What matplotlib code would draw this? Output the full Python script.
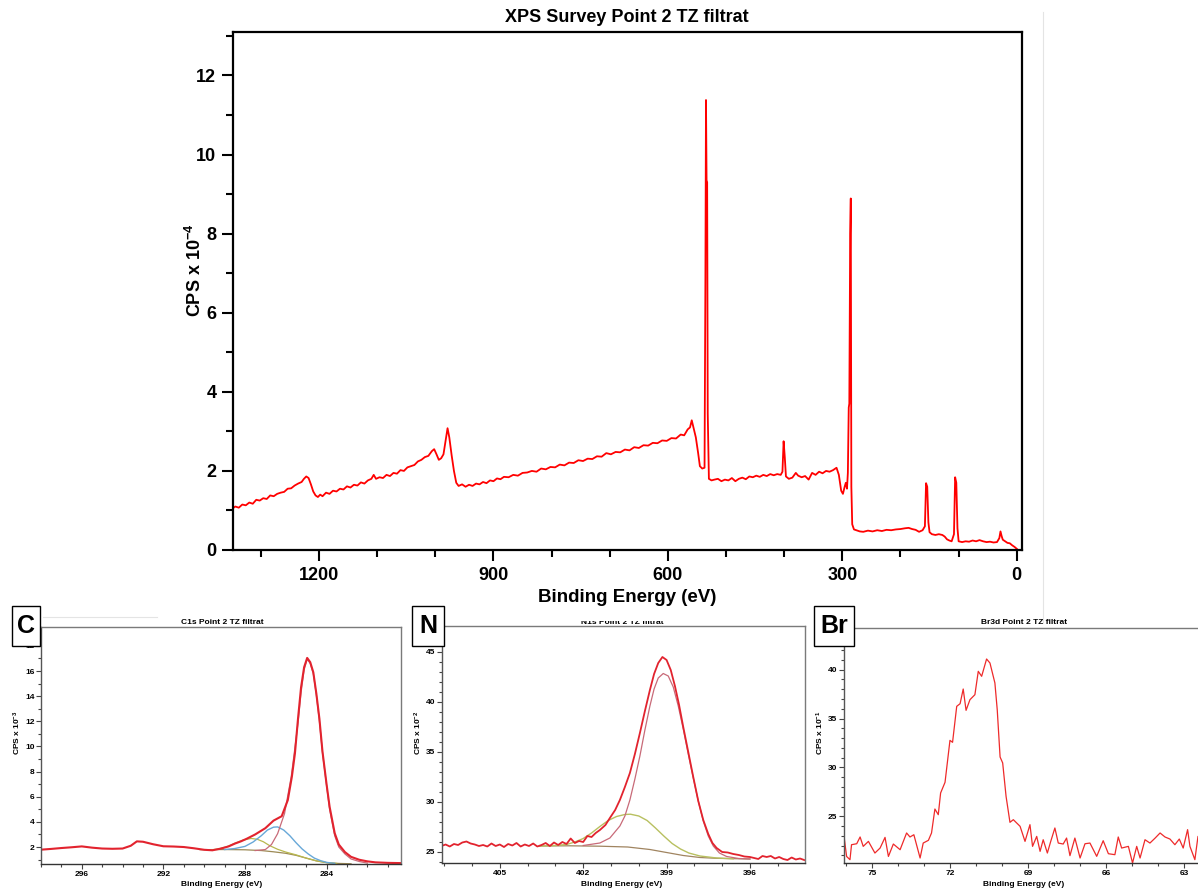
import numpy as np
import matplotlib.pyplot as plt
from matplotlib.ticker import MultipleLocator
from matplotlib.patches import Rectangle
from matplotlib.lines import Line2D

plt.rcParams['font.family'] = 'Liberation Sans'
plt.rcParams['font.weight'] = 'bold'
plt.rcParams['mathtext.fontset'] = 'custom'
plt.rcParams['mathtext.rm'] = 'Liberation Sans:bold'
plt.rcParams['mathtext.default'] = 'rm'

# survey spectrum: (binding energy eV, CPS x 1e-4)
survey_pts = [
    (1350, 1.04), (1344, 1.10), (1338, 1.07), (1332, 1.15), (1326, 1.13), (1320, 1.20),
    (1314, 1.17), (1308, 1.27), (1302, 1.25), (1296, 1.31), (1290, 1.29), (1284, 1.38),
    (1278, 1.36), (1272, 1.42), (1266, 1.45), (1260, 1.47), (1254, 1.55), (1248, 1.56),
    (1242, 1.63), (1236, 1.68), (1230, 1.72), (1226, 1.80), (1222, 1.86), (1218, 1.82),
    (1214, 1.66), (1210, 1.48), (1206, 1.38), (1202, 1.34), (1198, 1.40), (1194, 1.36),
    (1188, 1.45), (1182, 1.42), (1176, 1.50), (1170, 1.48), (1164, 1.55), (1158, 1.53),
    (1152, 1.61), (1146, 1.58), (1140, 1.65), (1134, 1.63), (1128, 1.71), (1122, 1.68),
    (1116, 1.76), (1110, 1.80), (1106, 1.90), (1102, 1.80), (1096, 1.84), (1090, 1.82),
    (1084, 1.90), (1078, 1.87), (1072, 1.95), (1066, 1.93), (1060, 2.02), (1054, 2.00),
    (1048, 2.09), (1042, 2.12), (1036, 2.15), (1030, 2.24), (1024, 2.28), (1018, 2.35),
    (1012, 2.38), (1006, 2.50), (1002, 2.55), (998, 2.42), (994, 2.28), (990, 2.32),
    (986, 2.42), (982, 2.80), (979, 3.08), (976, 2.85), (972, 2.40), (968, 2.00),
    (964, 1.70), (960, 1.62), (954, 1.66), (948, 1.60), (942, 1.65), (936, 1.62),
    (930, 1.68), (924, 1.66), (918, 1.72), (912, 1.69), (906, 1.76), (900, 1.74),
    (894, 1.81), (888, 1.79), (882, 1.85), (874, 1.84), (866, 1.90), (858, 1.88),
    (850, 1.95), (842, 1.96), (834, 2.00), (826, 1.98), (818, 2.06), (810, 2.04),
    (802, 2.10), (794, 2.09), (786, 2.16), (778, 2.14), (770, 2.21), (762, 2.20),
    (754, 2.27), (746, 2.25), (738, 2.31), (730, 2.30), (722, 2.37), (714, 2.36),
    (706, 2.45), (698, 2.42), (690, 2.48), (682, 2.47), (674, 2.54), (666, 2.52),
    (658, 2.60), (650, 2.58), (642, 2.65), (634, 2.64), (626, 2.71), (618, 2.70),
    (610, 2.77), (602, 2.76), (594, 2.83), (586, 2.82), (578, 2.92), (572, 2.90),
    (566, 3.05), (562, 3.10), (559, 3.28), (556, 3.10), (552, 2.85), (548, 2.45),
    (545, 2.12), (541, 2.06), (537, 2.08), (535.5, 6.9), (534.5, 11.38), (533.5, 9.35),
    (532.5, 9.30), (531.5, 3.45), (529.5, 1.80), (525, 1.76), (520, 1.78), (514, 1.80),
    (508, 1.74), (502, 1.78), (496, 1.76), (490, 1.82), (484, 1.74), (478, 1.80),
    (472, 1.83), (466, 1.79), (460, 1.86), (454, 1.84), (448, 1.88), (442, 1.85),
    (436, 1.90), (430, 1.87), (424, 1.92), (418, 1.89), (412, 1.92), (406, 1.90),
    (403, 1.98), (401, 2.75), (399, 2.35), (397, 1.86), (392, 1.80), (386, 1.83),
    (380, 1.95), (376, 1.88), (370, 1.84), (364, 1.87), (358, 1.78), (352, 1.95),
    (346, 1.90), (340, 1.98), (334, 1.94), (328, 2.00), (322, 1.98), (316, 2.02),
    (310, 2.08), (306, 1.90), (302, 1.50), (299, 1.42), (296, 1.60), (294, 1.70),
    (292, 1.55), (290.5, 1.95), (289, 3.60), (288, 3.70), (286.5, 8.00), (285.5, 8.89),
    (284.5, 1.60), (283, 0.65), (280, 0.52), (276, 0.50), (270, 0.47), (264, 0.46),
    (256, 0.49), (248, 0.47), (240, 0.50), (232, 0.48), (224, 0.51), (216, 0.50),
    (208, 0.52), (200, 0.53), (192, 0.55), (186, 0.56), (180, 0.53), (174, 0.51),
    (168, 0.46), (162, 0.50), (158, 0.60), (156, 1.69), (154, 1.60), (152, 0.70),
    (150, 0.45), (146, 0.40), (140, 0.38), (134, 0.40), (128, 0.38), (124, 0.34),
    (120, 0.27), (116, 0.24), (112, 0.22), (108, 0.40), (106, 1.84), (104, 1.70),
    (102, 0.55), (100, 0.22), (94, 0.20), (88, 0.22), (82, 0.21), (76, 0.24),
    (70, 0.22), (64, 0.25), (58, 0.22), (52, 0.20), (46, 0.21), (40, 0.19),
    (34, 0.20), (30, 0.30), (28, 0.47), (26, 0.35), (24, 0.26), (20, 0.22),
    (16, 0.18), (12, 0.17), (8, 0.12), (4, 0.08), (0, 0.03),
]

# C1s high resolution (CPS x 1e-3)
c1s_raw = [
    (298.0, 1.79), (297.5, 1.85), (297.0, 1.92), (296.5, 1.98), (296.0, 2.05), (295.5, 1.95),
    (295.0, 1.88), (294.5, 1.86), (294.0, 1.88), (293.6, 2.10), (293.3, 2.45), (293.0, 2.42),
    (292.5, 2.22), (292.0, 2.06), (291.5, 2.04), (291.0, 2.00), (290.5, 1.90), (290.0, 1.78),
    (289.6, 1.74), (289.2, 1.87), (288.8, 2.05), (288.5, 2.27), (288.2, 2.45), (287.9, 2.67),
    (287.5, 3.00), (287.0, 3.50), (286.6, 4.10), (286.2, 4.45), (285.9, 5.73), (285.7, 7.6),
    (285.55, 9.45), (285.4, 12.2), (285.25, 14.7), (285.1, 16.3), (284.95, 17.04), (284.8, 16.7),
    (284.65, 15.9), (284.5, 14.2), (284.35, 12.2), (284.2, 9.6), (284.0, 7.0), (283.85, 5.2),
    (283.6, 3.1), (283.4, 2.2), (283.1, 1.6), (282.8, 1.22), (282.4, 0.99), (282.0, 0.86),
    (281.6, 0.78), (281.0, 0.74), (280.3, 0.72),
]
c1s_cc = [
    (287.5, 1.72), (287.0, 1.80), (286.7, 2.2), (286.4, 3.06), (286.06, 4.66), (285.73, 7.6),
    (285.55, 9.9), (285.4, 11.85), (285.25, 14.3), (285.1, 16.1), (284.95, 16.95), (284.8, 16.6),
    (284.65, 15.8), (284.5, 14.1), (284.35, 12.0), (284.2, 9.5), (284.0, 6.9), (283.85, 5.0),
    (283.6, 2.9), (283.4, 2.0), (283.1, 1.45), (282.8, 1.05), (282.4, 0.85), (282.0, 0.72),
]
c1s_co = [
    (289.0, 1.80), (288.5, 1.88), (288.0, 2.05), (287.6, 2.40), (287.2, 2.90), (286.9, 3.35),
    (286.6, 3.58), (286.4, 3.60), (286.1, 3.35), (285.8, 2.90), (285.5, 2.35), (285.2, 1.85),
    (284.9, 1.45), (284.6, 1.12), (284.3, 0.92), (284.0, 0.78), (283.6, 0.70),
]
c1s_coo = [
    (289.8, 1.74), (289.3, 1.85), (288.9, 2.02), (288.5, 2.30), (288.1, 2.55), (287.7, 2.68),
    (287.4, 2.62), (287.1, 2.42), (286.8, 2.12), (286.4, 1.82), (286.0, 1.60), (285.5, 1.38),
    (285.0, 1.12), (284.5, 0.90), (284.0, 0.76), (283.5, 0.70),
]
c1s_bg = [
    (290.2, 1.79), (289.0, 1.80), (288.0, 1.78), (287.2, 1.72), (286.6, 1.62), (286.0, 1.50),
    (285.5, 1.34), (285.0, 1.12), (284.5, 0.90), (284.0, 0.76), (283.5, 0.70), (282.8, 0.67),
]

# N1s high resolution (CPS x 1e-2)
n1s_raw = [
    (407.1, 25.6), (406.95, 25.75), (406.8, 25.55), (406.65, 25.8), (406.5, 25.7), (406.35, 25.95),
    (406.2, 26.05), (406.05, 25.85), (405.9, 25.75), (405.75, 25.6), (405.6, 25.7), (405.45, 25.55),
    (405.3, 25.85), (405.15, 25.6), (405.0, 25.75), (404.85, 25.5), (404.7, 25.8), (404.55, 25.65),
    (404.4, 25.9), (404.25, 25.55), (404.1, 25.75), (403.95, 25.6), (403.8, 25.85), (403.65, 25.55),
    (403.5, 25.7), (403.35, 25.9), (403.2, 25.6), (403.05, 25.95), (402.9, 25.7), (402.75, 26.0),
    (402.6, 25.8), (402.45, 26.35), (402.3, 25.9), (402.15, 26.1), (402.0, 26.0), (401.85, 26.6),
    (401.7, 26.5), (401.55, 26.9), (401.4, 27.2), (401.2, 27.7), (401.04, 28.4), (400.85, 29.2),
    (400.68, 30.2), (400.5, 31.5), (400.32, 32.9), (400.14, 34.8), (399.96, 36.9), (399.78, 39.1),
    (399.6, 41.2), (399.45, 42.8), (399.3, 43.9), (399.15, 44.5), (399.0, 44.2), (398.85, 43.2),
    (398.7, 41.6), (398.55, 39.7), (398.4, 37.5), (398.22, 35.0), (398.04, 32.5), (397.86, 30.1),
    (397.68, 28.2), (397.5, 26.8), (397.35, 25.9), (397.2, 25.4), (397.0, 25.0), (396.8, 24.95),
    (396.6, 24.8), (396.4, 24.7), (396.2, 24.55), (396.0, 24.5), (395.85, 24.4), (395.7, 24.3),
    (395.55, 24.6), (395.4, 24.5), (395.25, 24.6), (395.1, 24.35), (394.95, 24.5), (394.8, 24.3),
    (394.65, 24.2), (394.5, 24.45), (394.35, 24.25), (394.2, 24.35), (394.05, 24.2),
]
n1s_main = [
    (402.0, 25.65), (401.4, 25.9), (401.04, 26.4), (400.68, 27.6), (400.5, 28.6), (400.32, 30.2),
    (400.14, 32.3), (399.96, 34.6), (399.78, 37.2), (399.6, 39.6), (399.45, 41.3), (399.3, 42.4),
    (399.12, 42.85), (398.94, 42.6), (398.76, 41.5), (398.58, 39.6), (398.4, 37.3), (398.22, 34.8),
    (398.04, 32.4), (397.86, 30.1), (397.68, 28.1), (397.5, 26.6), (397.32, 25.6), (397.1, 24.9),
    (396.84, 24.55), (396.4, 24.35), (396.0, 24.3),
]
n1s_second = [
    (403.56, 25.6), (403.0, 25.65), (402.6, 25.75), (402.3, 26.0), (402.0, 26.35), (401.7, 26.9),
    (401.4, 27.55), (401.1, 28.15), (400.8, 28.55), (400.5, 28.75), (400.3, 28.78), (400.0, 28.6),
    (399.7, 28.15), (399.4, 27.4), (399.1, 26.6), (398.8, 25.85), (398.5, 25.3), (398.2, 24.9),
    (397.8, 24.6), (397.2, 24.4), (396.6, 24.32),
]
n1s_bg = [
    (403.56, 25.6), (402.5, 25.62), (401.4, 25.58), (400.4, 25.5), (399.6, 25.25), (399.0, 24.95),
    (398.4, 24.65), (397.8, 24.45), (397.2, 24.37), (396.0, 24.3),
]

# Br3d high resolution (CPS x 1e-1)
br3d_raw = [
    (76.08, 22.78), (75.99, 20.9), (75.86, 20.57), (75.8, 22.1), (75.6, 22.2), (75.47, 22.89),
    (75.35, 21.93), (75.15, 22.44), (74.9, 21.25), (74.7, 21.76), (74.51, 22.85), (74.38, 20.9),
    (74.19, 22.17), (73.93, 21.59), (73.68, 23.3), (73.55, 22.89), (73.4, 23.12), (73.16, 20.74),
    (73.04, 22.27), (72.84, 22.55), (72.72, 23.3), (72.59, 25.75), (72.46, 25.17), (72.37, 27.39),
    (72.2, 28.48), (72.01, 32.77), (71.91, 32.57), (71.75, 36.25), (71.62, 36.52), (71.5, 38.02),
    (71.39, 35.84), (71.24, 36.93), (71.05, 37.44), (70.92, 39.83), (70.79, 39.32), (70.6, 41.09),
    (70.47, 40.68), (70.28, 38.64), (70.19, 35.91), (70.08, 31.07), (69.98, 30.46), (69.85, 27.05),
    (69.7, 24.39), (69.57, 24.66), (69.31, 23.98), (69.12, 22.44), (68.93, 24.15), (68.83, 21.93),
    (68.67, 22.95), (68.54, 21.42), (68.42, 22.61), (68.26, 21.25), (68.13, 22.44), (67.97, 23.81),
    (67.84, 22.27), (67.65, 22.17), (67.52, 22.78), (67.39, 20.98), (67.2, 22.78), (67.0, 20.74),
    (66.81, 22.2), (66.62, 22.27), (66.36, 20.91), (66.11, 22.51), (65.91, 21.18), (65.66, 21.08),
    (65.53, 22.89), (65.4, 21.76), (65.14, 21.93), (64.98, 20.23), (64.82, 21.93), (64.69, 20.74),
    (64.5, 22.61), (64.31, 22.27), (64.11, 22.78), (63.92, 23.3), (63.73, 22.89), (63.54, 22.68),
    (63.35, 22.1), (63.18, 22.68), (63.03, 21.76), (62.86, 23.64), (62.77, 21.93), (62.58, 20.57),
    (62.46, 22.95), (62.3, 22.4),
]

W, H = 1198, 890
fig = plt.figure(figsize=(W / 100, H / 100), dpi=100)


def box(l, t, r, b):
    return [l / W, 1 - b / H, (r - l) / W, (b - t) / H]


def xy(pts):
    a = np.array(pts)
    return a[:, 0], a[:, 1]


# ---- survey ----
ax = fig.add_axes(box(233, 32, 1022, 550))
ax.plot(*xy(survey_pts), color='#ff0000', lw=1.3)
ax.set_xlim(1348, -9)
ax.set_ylim(0, 13.1)
ax.xaxis.set_major_locator(MultipleLocator(300))
ax.xaxis.set_minor_locator(MultipleLocator(100))
ax.yaxis.set_major_locator(MultipleLocator(2))
ax.yaxis.set_minor_locator(MultipleLocator(1))
ax.tick_params(which='both', direction='out', width=1.5, labelsize=13, pad=4)
ax.tick_params(which='major', length=8)
ax.tick_params(which='minor', length=5)
for s in ax.spines.values():
    s.set_linewidth(1.6)
fig.text(627 / W, 1 - 18 / H, 'XPS Survey Point 2 TZ filtrat', ha='center', va='center', fontsize=13)
fig.text(627 / W, 1 - 597 / H, 'Binding Energy (eV)', ha='center', va='center', fontsize=13.5)
fig.text(195 / W, 1 - 270 / H, 'CPS x 10$^{-4}$', ha='center', va='center', rotation=90, fontsize=13)


def small(rect, xlim, ylim, xmaj, ymaj, title, tcx, ylab, ylx):
    a = fig.add_axes(rect)
    a.set_xlim(*xlim)
    a.set_ylim(*ylim)
    a.xaxis.set_major_locator(MultipleLocator(xmaj))
    a.xaxis.set_minor_locator(MultipleLocator(1))
    a.yaxis.set_major_locator(MultipleLocator(ymaj))
    a.yaxis.set_minor_locator(MultipleLocator(1))
    a.tick_params(which='both', direction='out', width=0.8, labelsize=6, pad=1.2, color='#444444')
    a.tick_params(which='major', length=3.5)
    a.tick_params(which='minor', length=2)
    for s in a.spines.values():
        s.set_linewidth(1.0)
        s.set_color('#7a7a7a')
    a.spines['bottom'].set_color('#333333')
    a.spines['left'].set_color('#555555')
    fig.text(tcx / W, 1 - 622 / H, title, ha='center', va='center', fontsize=6)
    fig.text(tcx / W, 1 - 884 / H, 'Binding Energy (eV)', ha='center', va='center', fontsize=6)
    fig.text(ylx / W, 1 - 733 / H, ylab, ha='center', va='center', rotation=90, fontsize=6)
    return a


# ---- C1s ----
axc = small(box(41, 627, 401, 864), (298.0, 280.35), (0.65, 19.5), 4, 2,
            'C1s Point 2 TZ filtrat', 222, 'CPS x 10$^{-3}$', 17)
axc.plot(*xy(c1s_bg), color='#9c8a55', lw=0.9)
axc.plot(*xy(c1s_coo), color='#b8b84e', lw=0.9)
axc.plot(*xy(c1s_co), color='#68a8d8', lw=1.0)
axc.plot(*xy(c1s_cc), color='#c86a78', lw=0.9)
axc.plot(*xy(c1s_raw), color='#e2232e', lw=1.5)

# ---- N1s ----
axn = small(box(442, 626, 805, 863), (407.08, 394.02), (23.9, 47.6), 3, 5,
            'N1s Point 2 TZ filtrat', 622, 'CPS x 10$^{-2}$', 418)
axn.plot(*xy(n1s_bg), color='#a08460', lw=0.9)
axn.plot(*xy(n1s_second), color='#b8c060', lw=1.0)
axn.plot(*xy(n1s_main), color='#c86a78', lw=0.9)
axn.plot(*xy(n1s_raw), color='#e2232e', lw=1.3)

# ---- Br3d ----
axb = small(box(844, 628, 1205, 863), (76.09, 62.19), (20.23, 44.26), 3, 5,
            'Br3d Point 2 TZ filtrat', 1024, 'CPS x 10$^{-1}$', 820)
axb.plot(*xy(br3d_raw), color='#ee2a2a', lw=0.9)

# page edge lines and a white strip over the N1s title
fig.add_artist(Line2D([1043 / W, 1043 / W], [1 - 12 / H, 1 - 622 / H], color='#e4e4e4', lw=0.8))
fig.add_artist(Line2D([43 / W, 157 / W], [1 - 617 / H, 1 - 617 / H], color='#e4e4e4', lw=0.8))
fig.add_artist(Rectangle((540 / W, 1 - 620.5 / H), 170 / W, 10 / H, transform=fig.transFigure,
                         facecolor='white', edgecolor='none', zorder=5))

# panel label boxes
for lab, l, r in [('C', 12, 40), ('N', 412, 444), ('Br', 814, 854)]:
    fig.add_artist(Rectangle((l / W, 1 - 646 / H), (r - l) / W, 40 / H, transform=fig.transFigure,
                             facecolor='white', edgecolor='black', lw=1.0, zorder=6))
    fig.text((l + r) / 2 / W, 1 - 626 / H, lab, ha='center', va='center', fontsize=18,
             zorder=7)

plt.savefig('out.png', dpi=100)
